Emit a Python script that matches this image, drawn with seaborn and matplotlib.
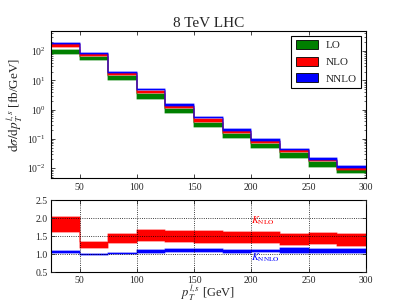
import numpy as np
import matplotlib
matplotlib.use("Agg")
import matplotlib.pyplot as plt
import seaborn as sns
from matplotlib.patches import Patch

# bin edges in pT [GeV]
edges = [25, 50, 75, 100, 125, 150, 175, 200, 225, 250, 275, 300]

# differential cross sections [fb/GeV], band limits per bin
lo_hi = [112, 62, 14.0, 3.35, 1.03, 0.36, 0.152, 0.069, 0.034, 0.0165, 0.0085]
lo_lo = [80, 48, 10.2, 2.4, 0.74, 0.265, 0.11, 0.049, 0.0225, 0.0112, 0.0067]
nlo_hi = [172, 78, 18.0, 4.5, 1.35, 0.495, 0.188, 0.087, 0.0405, 0.0194, 0.0101]
nlo_lo = [138, 66, 15.6, 3.75, 1.12, 0.39, 0.162, 0.074, 0.0355, 0.017, 0.0088]
nnlo_hi = [190, 83, 19.6, 5.0, 1.5, 0.54, 0.216, 0.096, 0.046, 0.0221, 0.0118]
nnlo_lo = [173, 79, 18.2, 4.6, 1.37, 0.50, 0.19, 0.088, 0.041, 0.0197, 0.0103]

# K factors
knlo_hi = [2.02, 1.33, 1.56, 1.66, 1.65, 1.63, 1.61, 1.62, 1.55, 1.58, 1.56]
knlo_lo = [1.62, 1.17, 1.30, 1.35, 1.34, 1.32, 1.30, 1.30, 1.25, 1.27, 1.23]
knnlo_hi = [1.08, 1.00, 1.04, 1.10, 1.14, 1.13, 1.11, 1.12, 1.17, 1.15, 1.14]
knnlo_lo = [1.03, 0.97, 1.00, 1.03, 1.05, 1.05, 1.04, 1.05, 1.04, 1.03, 1.03]

sns.set_theme(style="ticks")
plt.rcParams["font.family"] = ["Liberation Serif", "DejaVu Serif"]
plt.rcParams["mathtext.fontset"] = "stix"
plt.rcParams["xtick.direction"] = "in"
plt.rcParams["ytick.direction"] = "in"
plt.rcParams["xtick.top"] = True
plt.rcParams["ytick.right"] = True
plt.rcParams["axes.edgecolor"] = "black"
plt.rcParams["axes.linewidth"] = 0.8

GREEN, RED, BLUE = "#008000", "#ff0000", "#0000ff"


def ext(v):
    return list(v) + [v[-1]]


def band(ax, lo, hi, color):
    # pale halo round each band, then the solid band on top
    ax.fill_between(edges, ext(lo), ext(hi), step="post", facecolor=color,
                    edgecolor=color, alpha=0.25, linewidth=1.2)
    ax.fill_between(edges, ext(lo), ext(hi), step="post", facecolor=color,
                    edgecolor=color, linewidth=0.3)


fig = plt.figure(figsize=(4.07, 3.05), dpi=100)
ax1 = fig.add_axes([0.125, 0.416, 0.774, 0.482])
ax2 = fig.add_axes([0.125, 0.108, 0.774, 0.236])

band(ax1, lo_lo, lo_hi, GREEN)
band(ax1, nlo_lo, nlo_hi, RED)
band(ax1, nnlo_lo, nnlo_hi, BLUE)
ax1.set_yscale("log")
ax1.set_xlim(25, 300)
ax1.set_ylim(0.0046, 480)
ax1.set_xticks([50, 100, 150, 200, 250, 300])
ax1.set_title("8 TeV LHC", fontsize=11, pad=3)
ax1.set_ylabel(r"$\mathrm{d}\sigma/\mathrm{d}p_T^{l,s}$ [fb/GeV]", fontsize=9.5, labelpad=2)
ax1.tick_params(labelsize=7, length=3, width=0.6)
ax1.tick_params(which="minor", length=1.5, width=0.5)

handles = [Patch(facecolor=GREEN, edgecolor="black", lw=0.6, label="LO"),
           Patch(facecolor=RED, edgecolor="black", lw=0.6, label="NLO"),
           Patch(facecolor=BLUE, edgecolor="black", lw=0.6, label="NNLO")]
leg = ax1.legend(handles=handles, loc="upper right", fontsize=8, fancybox=False,
                 edgecolor="black", framealpha=1, handlelength=2.0, handleheight=0.9,
                 handletextpad=0.7, borderaxespad=0.4, labelspacing=0.55,
                 borderpad=0.4)
leg.get_frame().set_linewidth(0.8)

band(ax2, knlo_lo, knlo_hi, RED)
band(ax2, knnlo_lo, knnlo_hi, BLUE)
ax2.set_xlim(25, 300)
ax2.set_ylim(0.5, 2.5)
ax2.set_xticks([50, 100, 150, 200, 250, 300])
ax2.set_yticks([0.5, 1.0, 1.5, 2.0, 2.5])
ax2.grid(True, color="black", linestyle=":", linewidth=0.6)
ax2.set_axisbelow(False)
ax2.tick_params(labelsize=7, length=3, width=0.6, pad=2.5)
ax2.set_xlabel(r"$p_T^{l,s}$ [GeV]", fontsize=9, labelpad=-1)
ax2.text(200, 1.85, r"$K_{\mathrm{NLO}}$", color=RED, fontsize=7.5)
ax2.text(200, 0.83, r"$K_{\mathrm{NNLO}}$", color=BLUE, fontsize=7.5)

fig.savefig("out.png", dpi=100)
